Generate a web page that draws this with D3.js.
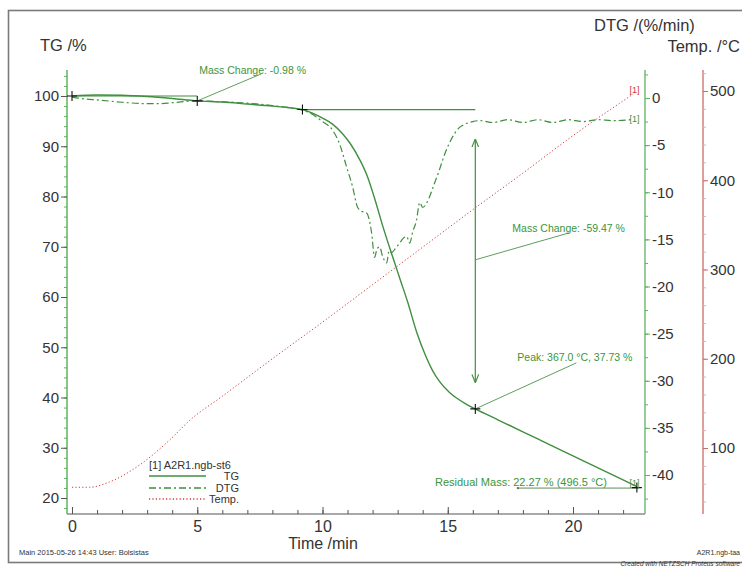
<!DOCTYPE html>
<html lang="en">
  <head>
    <meta charset="UTF-8" />
    <title>TG / DTG</title>
    <script src="https://d3js.org/d3.v7.min.js"></script>
    <style>
      body {
        margin: 0;
        background: #fff;
        font-family: "Liberation Sans", Arial, sans-serif;
      }
      .tick text {
        fill: #333;
        font-size: 15px;
      }
      .note {
        fill: #3c943c;
        font-size: 10.5px;
      }
    </style>
  </head>
  <body>
    <div id="chart"></div>
    <script>
      // TG curve (time in min, mass in %)
      const tgTime = [0, 1, 2, 3, 4, 5, 6, 7, 8, 8.6, 9.2, 9.6, 10, 10.4, 10.8, 11.1, 11.5, 11.8, 12.1, 12.4, 12.8, 13.1, 13.4, 13.76, 14.1, 14.4, 14.67, 15.07, 15.35, 15.7, 16.1, 17, 18, 19, 20, 21, 22, 22.55];
      const tgValue = [100, 100.2, 100.15, 99.9, 99.5, 99.02, 98.8, 98.4, 98.0, 97.7, 97.3, 96.6, 95.6, 94.4, 92.5, 90.6, 87.2, 83.9, 79.3, 74.2, 68, 63.5, 59, 53, 48.5, 45.3, 43.2, 41, 39.9, 38.8, 37.73, 35.57, 33.17, 30.78, 28.38, 25.98, 23.59, 22.27];

      // DTG curve (%/min)
      const dtgTime = [0, 0.5, 1, 2, 3, 3.5, 4, 5, 6, 7, 8, 8.6, 9.2, 9.5, 10, 10.4, 10.7, 10.96, 11.2, 11.4, 11.55, 11.76, 11.96, 12.08, 12.18, 12.28, 12.4, 12.56, 12.66, 12.76, 12.9, 13.08, 13.22, 13.36, 13.48, 13.6, 13.75, 13.88, 14.0, 14.27, 14.45, 14.67, 14.9, 15.2, 15.4, 15.6, 16.0, 16.3, 16.8, 17.4, 18, 18.6, 19.2, 19.8, 20.4, 21, 21.6, 22.3];
      const dtgValue = [0.1, -0.1, -0.2, -0.45, -0.6, -0.6, -0.5, -0.3, -0.4, -0.55, -0.8, -1.0, -1.3, -1.6, -2.5, -3.4, -5.0, -7.3, -9.4, -11.6, -12.0, -12.2, -14.3, -16.9, -16.0, -15.8, -16.8, -17.5, -16.2, -16.4, -16.0, -15.4, -14.9, -14.7, -15.4, -14.2, -13.0, -11.1, -11.6, -10.5, -9.2, -7.6, -5.8, -4.1, -3.3, -2.9, -2.5, -2.4, -2.6, -2.3, -2.6, -2.3, -2.6, -2.3, -2.5, -2.3, -2.4, -2.3];

      // Temperature (°C)
      const tempTime = [0, 0.7, 1.5, 2.7, 3.9, 4.7, 6, 8, 10, 12, 14, 16, 18, 20, 22.4];
      const tempValue = [56, 56, 62, 81, 109, 131, 158, 200, 241, 283, 325, 367, 408, 450, 496.5];

      // ticks
      const timeTicks = [0, 5, 10, 15, 20];
      const tgTicks = [20, 30, 40, 50, 60, 70, 80, 90, 100];
      const dtgTicks = [0, -5, -10, -15, -20, -25, -30, -35, -40];
      const tempTicks = [100, 200, 300, 400, 500];

      // evaluated points
      const steps = [
        { t0: 0, t1: 5, level: 100, end: 99.02, label: "Mass Change: -0.98 %" },
        { t0: 9.2, t1: 16.1, level: 97.3, end: 37.73, label: "Mass Change: -59.47 %" }
      ];
      const peak = { t: 16.1, tg: 37.73, label: "Peak: 367.0 °C, 37.73 %" };
      const residual = { t: 22.55, tg: 22.27, label: "Residual Mass: 22.27 % (496.5 °C)" };

      const W = 742, H = 567;
      const green = "#3f8f3f", axisGreen = "#5fb35f", red = "#d23a3a";

      const svg = d3.select("#chart").append("svg").attr("width", W).attr("height", H);

      // frame
      svg.append("rect").attr("x", 8.5).attr("y", 10.5).attr("width", 800).attr("height", 552)
        .attr("fill", "none").attr("stroke", "#7a7a7a").attr("stroke-width", 1.6);

      const x = d3.scaleLinear().domain([0, 20]).range([72, 573]);
      const yTG = d3.scaleLinear().domain([100, 20]).range([96, 498]);
      const yDTG = d3.scaleLinear().domain([0, -40]).range([98, 475]);
      const yT = d3.scaleLinear().domain([500, 100]).range([91, 448]);

      const axTop = 70, axBottom = 514;
      const xLeft = 67, xDTG = 645, xTemp = 703;

      // ---- axes
      function styleAxis(g, color) {
        g.select(".domain").remove();
        g.selectAll(".tick line").attr("stroke", color);
      }

      // x axis
      const gx = svg.append("g").attr("transform", `translate(0,${axBottom})`);
      gx.append("line").attr("x1", xLeft).attr("x2", xDTG).attr("stroke", "#555").attr("stroke-width", 1.2);
      gx.append("g").call(d3.axisBottom(x).tickValues(d3.range(0, 23, 1)).tickSize(-4).tickFormat(""))
        .call(styleAxis, "#555");
      gx.append("g").call(d3.axisBottom(x).tickValues(timeTicks).tickSize(-7).tickPadding(7))
        .call(styleAxis, "#555");
      gx.selectAll(".tick text").style("font-size", "16px");
      svg.append("text").attr("x", 323).attr("y", 549).attr("text-anchor", "middle")
        .attr("fill", "#333").style("font-size", "16px").text("Time /min");

      // TG axis
      const gl = svg.append("g").attr("transform", `translate(${xLeft},0)`);
      gl.append("line").attr("y1", axTop).attr("y2", axBottom).attr("stroke", axisGreen).attr("stroke-width", 1.5);
      gl.append("g").call(d3.axisLeft(yTG).tickValues(d3.range(18, 106, 2)).tickSize(3).tickFormat(""))
        .call(styleAxis, axisGreen);
      gl.append("g").call(d3.axisLeft(yTG).tickValues(tgTicks).tickSize(6).tickPadding(2))
        .call(styleAxis, "#555");
      svg.append("text").attr("x", 40).attr("y", 51).attr("fill", "#333").style("font-size", "16.5px").text("TG /%");

      // DTG axis
      const gd = svg.append("g").attr("transform", `translate(${xDTG},0)`);
      gd.append("line").attr("y1", axTop).attr("y2", axBottom).attr("stroke", axisGreen).attr("stroke-width", 1.3);
      gd.append("g").call(d3.axisRight(yDTG).tickValues(d3.range(2.5, -43, -2.5)).tickSize(3).tickFormat(""))
        .call(styleAxis, axisGreen);
      gd.append("g").call(d3.axisRight(yDTG).tickValues(dtgTicks).tickSize(5).tickPadding(2).tickFormat(d => d === 0 ? "0" : d))
        .call(styleAxis, axisGreen);
      svg.append("text").attr("x", 594).attr("y", 31).attr("fill", "#333").style("font-size", "16.5px").text("DTG /(%/min)");

      // Temp axis
      const gt = svg.append("g").attr("transform", `translate(${xTemp},0)`);
      gt.append("line").attr("y1", axTop).attr("y2", axBottom).attr("stroke", "#cc6a6a").attr("stroke-width", 1.3);
      gt.append("g").call(d3.axisRight(yT).tickValues(d3.range(40, 521, 20)).tickSize(3).tickFormat(""))
        .call(styleAxis, "#e2b0b0");
      gt.append("g").call(d3.axisRight(yT).tickValues(tempTicks).tickSize(5).tickPadding(2))
        .call(styleAxis, "#cc6a6a");
      svg.append("text").attr("x", 740).attr("y", 52).attr("text-anchor", "end").attr("fill", "#333")
        .style("font-size", "16.5px").text("Temp. /°C");

      // ---- curves
      const tgPts = tgTime.map((t, i) => [x(t), yTG(tgValue[i])]);
      const dtgPts = dtgTime.map((t, i) => [x(t), yDTG(dtgValue[i])]);
      const tPts = tempTime.map((t, i) => [x(t), yT(tempValue[i])]);
      const line = d3.line().curve(d3.curveMonotoneX);

      svg.append("path").attr("d", line(tPts)).attr("fill", "none").attr("stroke", red)
        .attr("stroke-width", 1).attr("stroke-dasharray", "1.2,2.2");
      svg.append("path").attr("d", line(dtgPts)).attr("fill", "none").attr("stroke", green)
        .attr("stroke-width", 1.2).attr("stroke-dasharray", "7,3,2,3");
      svg.append("path").attr("d", line(tgPts)).attr("fill", "none").attr("stroke", green)
        .attr("stroke-width", 1.4);

      // ---- evaluation marks
      const lead = "#5e9e5e";
      const cross = (cx, cy) => {
        svg.append("path").attr("d", `M${cx - 5},${cy}H${cx + 5}M${cx},${cy - 5}V${cy + 5}`)
          .attr("stroke", "#111").attr("stroke-width", 1.1);
      };

      // step 1
      const s1 = steps[0];
      svg.append("line").attr("x1", x(s1.t0)).attr("x2", x(s1.t1)).attr("y1", yTG(s1.level)).attr("y2", yTG(s1.level))
        .attr("stroke", green).attr("stroke-width", 1.2);
      svg.append("line").attr("x1", x(s1.t1)).attr("y1", yTG(s1.end)).attr("x2", x(s1.t1) + 64).attr("y2", yTG(s1.end) - 27)
        .attr("stroke", lead).attr("stroke-width", 1);
      svg.append("text").attr("class", "note").attr("x", x(s1.t1) + 2).attr("y", yTG(s1.end) - 27).text(s1.label);
      cross(x(s1.t0), yTG(s1.level));
      cross(x(s1.t1), yTG(s1.end));

      // step 2
      const s2 = steps[1];
      svg.append("line").attr("x1", x(s2.t0)).attr("x2", x(s2.t1)).attr("y1", yTG(s2.level)).attr("y2", yTG(s2.level))
        .attr("stroke", green).attr("stroke-width", 1.2);
      cross(x(s2.t0), yTG(s2.level));
      svg.append("defs").append("marker").attr("id", "ah").attr("viewBox", "0 0 10 10").attr("refX", 9).attr("refY", 5)
        .attr("markerWidth", 7).attr("markerHeight", 9).attr("orient", "auto-start-reverse")
        .append("path").attr("d", "M0,1L10,5L0,9").attr("fill", "none").attr("stroke", green).attr("stroke-width", 1.4);
      svg.append("line").attr("x1", x(s2.t1)).attr("x2", x(s2.t1)).attr("y1", yTG(91.3)).attr("y2", yTG(43.1))
        .attr("stroke", green).attr("stroke-width", 1.2)
        .attr("marker-start", "url(#ah)").attr("marker-end", "url(#ah)");
      const midY = yTG(67.4);
      svg.append("line").attr("x1", x(s2.t1)).attr("y1", midY).attr("x2", x(s2.t1) + 94).attr("y2", midY - 27)
        .attr("stroke", lead).attr("stroke-width", 1);
      svg.append("text").attr("class", "note").attr("x", x(s2.t1) + 37).attr("y", midY - 28).text(s2.label);

      // peak
      svg.append("line").attr("x1", x(peak.t)).attr("y1", yTG(peak.tg)).attr("x2", x(peak.t) + 101).attr("y2", yTG(peak.tg) - 46)
        .attr("stroke", lead).attr("stroke-width", 1);
      svg.append("text").attr("class", "note").attr("x", x(peak.t) + 42).attr("y", yTG(peak.tg) - 48).text(peak.label);
      cross(x(peak.t), yTG(peak.tg));

      // residual
      svg.append("line").attr("x1", x(17.8)).attr("x2", x(residual.t) + 2).attr("y1", yTG(residual.tg) + 1.5).attr("y2", yTG(residual.tg) + 1.5)
        .attr("stroke", "#9fbf9f").attr("stroke-width", 1.6);
      svg.append("circle").attr("cx", x(17.8)).attr("cy", yTG(residual.tg) + 1.5).attr("r", 1.2).attr("fill", "#557755");
      svg.append("text").attr("class", "note").attr("x", 435).attr("y", yTG(residual.tg) - 1).style("font-size", "11px").text(residual.label);
      cross(x(residual.t), yTG(residual.tg) + 1);

      // curve end tags
      const tag = (tx, ty, c) => svg.append("text").attr("x", tx).attr("y", ty).attr("fill", c)
        .style("font-size", "9px").text("[1]");
      tag(x(22.3) - 1, yT(496.5) - 1, red);
      tag(x(22.3) - 1, yDTG(-2.2) + 3, green);
      tag(x(22.3) - 1, yTG(22.27) - 1, green);

      // ---- legend
      const lg = svg.append("g").attr("transform", "translate(149,0)");
      lg.append("text").attr("y", 469).attr("fill", "#333").style("font-size", "11px").text("[1] A2R1.ngb-st6");
      const legendRows = [
        { name: "TG", y: 476, dash: null, color: green },
        { name: "DTG", y: 488, dash: "7,3,2,3", color: green },
        { name: "Temp.", y: 499, dash: "1.2,2.2", color: red }
      ];
      legendRows.forEach(r => {
        lg.append("line").attr("x1", 0).attr("x2", 57).attr("y1", r.y).attr("y2", r.y)
          .attr("stroke", r.color).attr("stroke-width", 1.3).attr("stroke-dasharray", r.dash);
        lg.append("text").attr("x", 90).attr("y", r.y + 4).attr("text-anchor", "end").attr("fill", "#333")
          .style("font-size", "11px").text(r.name);
      });

      // ---- footer
      svg.append("text").attr("x", 19).attr("y", 555).attr("fill", "#333").style("font-size", "7.5px")
        .text("Main   2015-05-26 14:43   User: Bolsistas");
      svg.append("text").attr("x", 740).attr("y", 555).attr("text-anchor", "end").attr("fill", "#333")
        .style("font-size", "7px").text("A2R1.ngb-taa");
      svg.append("text").attr("x", 740).attr("y", 566).attr("text-anchor", "end").attr("fill", "#333")
        .style("font-size", "6.5px").style("font-style", "italic").text("Created with NETZSCH Proteus software");
    </script>
  </body>
</html>
